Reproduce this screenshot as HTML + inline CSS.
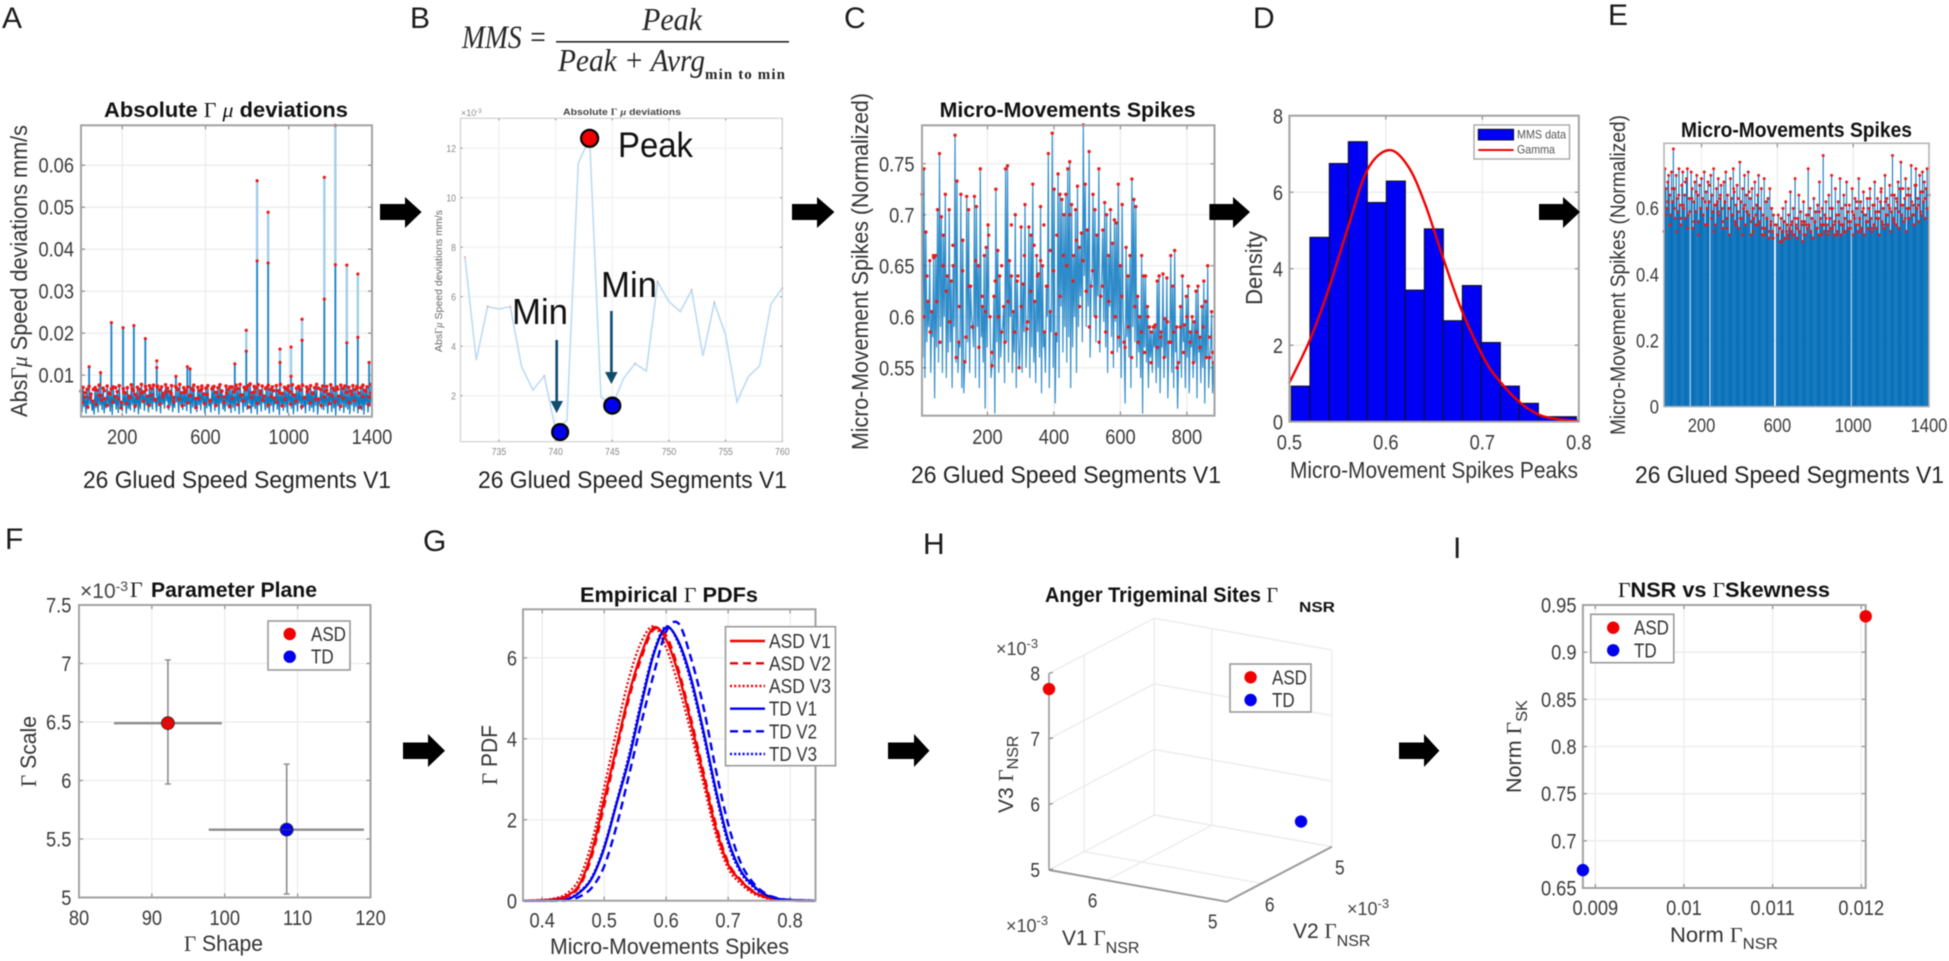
<!DOCTYPE html>
<html lang="en"><head><meta charset="utf-8"><title>Micro-movement spikes analysis figure</title>
<style>
html,body{margin:0;padding:0;background:#fff}
svg{display:block;filter:blur(.5px)}
text{font-family:"Liberation Sans",sans-serif;fill:#262626}
.s{font-family:"Liberation Serif",serif}
.i{font-family:"Liberation Serif",serif;font-style:italic}
.letter{font-size:30px;fill:#1c1c1c}
.title{font-size:21px;font-weight:bold;fill:#111}
.lab{font-size:23px;fill:#333}
.seg{font-size:24px;fill:#222}
.leg{font-size:20px;fill:#333}
.legbox{fill:#fff;stroke:#9a9a9a;stroke-width:1.6}
</style></head>
<body>
<svg id="fig" xmlns="http://www.w3.org/2000/svg" width="1949" height="961" viewBox="0 0 1949 961">
<rect width="1949" height="961" fill="#fff"/>
<text class="letter" x="2" y="28">A</text>
<text class="letter" x="410" y="28">B</text>
<text class="letter" x="844" y="28">C</text>
<text class="letter" x="1253" y="28">D</text>
<text class="letter" x="1608" y="25">E</text>
<text class="letter" x="5" y="549">F</text>
<text class="letter" x="423" y="551">G</text>
<text class="letter" x="923" y="554">H</text>
<text class="letter" x="1453" y="558">I</text>

<g>
<text class="i" x="462" y="48" font-size="33" textLength="85" lengthAdjust="spacingAndGlyphs">MMS =</text>
<text class="i" x="642" y="30" font-size="32" textLength="60" lengthAdjust="spacingAndGlyphs">Peak</text>
<rect x="556" y="41" width="233" height="1.6" fill="#222"/>
<text class="i" x="558" y="71" font-size="32" textLength="147" lengthAdjust="spacingAndGlyphs">Peak + Avrg</text>
<text class="s" x="705" y="79" font-size="15" font-weight="bold" textLength="80" lengthAdjust="spacing">min to min</text>
</g>

<g id="g-a"></g>
<g id="g-b"></g>
<g id="g-c"></g>
<g id="g-d"></g>
<g id="g-e"></g>
<g id="g-f"></g>
<g id="g-g"></g>
<g id="g-h"></g>
<g id="g-i"></g>

<text class="title" x="104" y="117" textLength="244" lengthAdjust="spacingAndGlyphs">Absolute <tspan class="s" font-weight="normal">Γ</tspan> <tspan class="i" font-weight="normal">μ</tspan> deviations</text>
<text class="lab" transform="translate(27,417) rotate(-90)" x="0" y="0" textLength="292" lengthAdjust="spacingAndGlyphs">Abs<tspan class="s">Γ</tspan><tspan class="i">μ</tspan> Speed deviations mm/s</text>
<text class="seg" x="83" y="488" textLength="308" lengthAdjust="spacingAndGlyphs">26 Glued Speed Segments V1</text>

<text x="563" y="115" font-size="9.5" font-weight="bold" fill="#444" style="fill:#444" textLength="118" lengthAdjust="spacingAndGlyphs">Absolute <tspan class="s">Γ</tspan> <tspan class="i">μ</tspan> deviations</text>
<text x="461" y="116" font-size="9" style="fill:#888">×10<tspan dy="-3" font-size="6">-3</tspan></text>
<text transform="translate(442,352) rotate(-90)" x="0" y="0" font-size="10" style="fill:#666" textLength="142" lengthAdjust="spacingAndGlyphs">Abs<tspan class="s">Γ</tspan><tspan class="i">μ</tspan> Speed deviations mm/s</text>
<text class="seg" x="478" y="488" textLength="309" lengthAdjust="spacingAndGlyphs">26 Glued Speed Segments V1</text>
<text x="618" y="157" font-size="35" style="fill:#111" textLength="75" lengthAdjust="spacingAndGlyphs">Peak</text>
<text x="512" y="324" font-size="36" style="fill:#111" textLength="56" lengthAdjust="spacingAndGlyphs">Min</text>
<text x="601" y="297" font-size="36" style="fill:#111" textLength="56" lengthAdjust="spacingAndGlyphs">Min</text>
<g fill="#0f4c6e"><rect x="555.4" y="340" width="2.6" height="64"/><polygon points="550.5,401 563,401 556.7,413"/></g>
<g fill="#0f4c6e"><rect x="610.1" y="311" width="2.6" height="64"/><polygon points="605,372 617.6,372 611.4,384"/></g>

<text class="title" x="939.6" y="117" textLength="256" lengthAdjust="spacingAndGlyphs">Micro-Movements Spikes</text>
<text class="lab" transform="translate(868,450) rotate(-90)" x="0" y="0" textLength="357" lengthAdjust="spacingAndGlyphs">Micro-Movement Spikes (Normalized)</text>
<text class="seg" x="911" y="483" textLength="310" lengthAdjust="spacingAndGlyphs">26 Glued Speed Segments V1</text>

<text class="lab" transform="translate(1262,305) rotate(-90)" x="0" y="0" textLength="74" lengthAdjust="spacingAndGlyphs">Density</text>
<text class="lab" x="1290" y="478" textLength="288" lengthAdjust="spacingAndGlyphs">Micro-Movement Spikes Peaks</text>

<text class="title" x="1681" y="137" textLength="231" lengthAdjust="spacingAndGlyphs">Micro-Movements Spikes</text>
<text class="lab" transform="translate(1625,435) rotate(-90)" x="0" y="0" style="font-size:21px" textLength="320" lengthAdjust="spacingAndGlyphs">Micro-Movement Spikes (Normalized)</text>
<text class="seg" x="1635" y="483" textLength="309" lengthAdjust="spacingAndGlyphs">26 Glued Speed Segments V1</text>

<g>
<text x="80" y="598" font-size="21" style="fill:#444">×10<tspan dy="-7" font-size="14">-3</tspan></text>
<text class="s" x="130" y="597" font-size="22" style="fill:#222">Γ</text>
<text class="title" x="151" y="597" textLength="166" lengthAdjust="spacingAndGlyphs">Parameter Plane</text>
</g>
<text class="lab" x="184" y="951" style="font-size:22px" textLength="79" lengthAdjust="spacingAndGlyphs"><tspan class="s">Γ</tspan> Shape</text>
<text class="lab" transform="translate(36,787) rotate(-90)" x="0" y="0" style="font-size:22px" textLength="71" lengthAdjust="spacingAndGlyphs"><tspan class="s">Γ</tspan> Scale</text>

<text class="title" x="580" y="602" textLength="178" lengthAdjust="spacingAndGlyphs">Empirical <tspan class="s" font-weight="normal">Γ</tspan> PDFs</text>
<text class="lab" x="550" y="954" style="font-size:22px" textLength="239" lengthAdjust="spacingAndGlyphs">Micro-Movements Spikes</text>
<text class="lab" transform="translate(497,785) rotate(-90)" x="0" y="0" style="font-size:22px" textLength="60" lengthAdjust="spacingAndGlyphs"><tspan class="s">Γ</tspan> PDF</text>

<text class="title" x="1045" y="602" textLength="233" lengthAdjust="spacingAndGlyphs">Anger Trigeminal Sites <tspan class="s" font-weight="normal">Γ</tspan></text>
<text class="title" x="1299" y="612" style="font-size:15px" textLength="36" lengthAdjust="spacingAndGlyphs">NSR</text>
<text class="lab" transform="translate(1013,813) rotate(-90)" x="0" y="0" style="font-size:21px">V3 <tspan class="s">Γ</tspan><tspan dy="5" font-size="16">NSR</tspan></text>
<text class="lab" x="1062" y="945" style="font-size:21px">V1 <tspan class="s">Γ</tspan><tspan dy="8" font-size="16">NSR</tspan></text>
<text class="lab" x="1293" y="938" style="font-size:21px">V2 <tspan class="s">Γ</tspan><tspan dy="8" font-size="16">NSR</tspan></text>
<text x="996" y="655" font-size="18" style="fill:#444">×10<tspan dy="-7" font-size="13">-3</tspan></text>
<text x="1347" y="915" font-size="18" style="fill:#444">×10<tspan dy="-7" font-size="13">-3</tspan></text>
<text x="1006" y="932" font-size="18" style="fill:#444">×10<tspan dy="-7" font-size="13">-3</tspan></text>

<text class="title" x="1618" y="597" textLength="212" lengthAdjust="spacingAndGlyphs"><tspan class="s" font-weight="normal">Γ</tspan>NSR vs <tspan class="s" font-weight="normal">Γ</tspan>Skewness</text>
<text class="lab" x="1670" y="942" style="font-size:21px" textLength="108" lengthAdjust="spacingAndGlyphs">Norm <tspan class="s">Γ</tspan><tspan dy="7" font-size="16">NSR</tspan></text>
<text class="lab" transform="translate(1521,793) rotate(-90)" x="0" y="0" style="font-size:21px" textLength="93" lengthAdjust="spacingAndGlyphs">Norm <tspan class="s">Γ</tspan><tspan dy="6" font-size="16">SK</tspan></text>

<g fill="#000">
<polygon points="380,204 405,204 405,197 421.6,212 405,228 405,220 380,220"/>
<polygon points="792,204 817,204 817,197 834.4,212 817,228 817,220 792,220"/>
<polygon points="1209.4,204 1233,204 1233,197 1250,212 1233,228 1233,220 1209.4,220"/>
<polygon points="1539,204 1563,204 1563,197 1580,212 1563,228 1563,220 1539,220"/>
<polygon points="403,742.5 428,742.5 428,734 445,750.7 428,767 428,759 403,759"/>
<polygon points="888,742.5 914,742.5 914,734 929.5,750.7 914,767 914,759 888,759"/>
<polygon points="1399,742.5 1424,742.5 1424,734 1439.4,750.7 1424,767 1424,759 1399,759"/>
</g>
</svg>
<script>
/* ---------- chart data ---------- */
const aXTicks = [200, 600, 1000, 1400];
const aYTicks = [0.01, 0.02, 0.03, 0.04, 0.05, 0.06];
const aSpikeX = [41, 96, 148, 204, 256, 311, 366, 458, 513, 526, 741, 796, 848, 901, 958, 1011, 1064, 1171, 1224, 1279, 1332, 1386];
const aSpikeTop = [0.012, 0.0106, 0.0225, 0.0213, 0.0218, 0.0187, 0.0134, 0.0097, 0.012, 0.0115, 0.0127, 0.0207, 0.0563, 0.0488, 0.0162, 0.0167, 0.0233, 0.0571, 0.0695, 0.0362, 0.0341, 0.013];
const aSpikeMid = [0, 0, 0, 0, 0, 0, 0.0118, 0, 0, 0, 0, 0.0157, 0.0372, 0.0367, 0.013, 0.0097, 0.0183, 0.0281, 0.0363, 0.0177, 0.019, 0];
const aPeaks = [62,71,48,66,73,55,38,70,64,76,52,69,44,74,58,67,72,49,61,75,35,68,57,70,46,77,63,54,71,66,78,60,73,50,75,68,76,42,74,65,72,56,77,69,61,75,47,73,66,78,58,70,64,72,52,68,76,44,71,63,74,55,69,75,38,67,73,59,70,77,62,48,74,66,72,72,60,76,68,78,53,71,65,75,79,58,73,69,77,62,74,50,70,76,66,72,45,75,63,78,56,71,68,74,60,77,52,69,73,65,76,47,72,67,75,58,70,78,43,66,74,61,73,55,77,69,64,72,50,76,68,74,59,71,62,75,66,73,57,70,76,64,72,48,78];
const aTroughs = [12,24,8,19,30,15,6,22,11,28,17,9,21,26,13,5,31,18,10,23,14,27,8,20,16,29,12,25,7,19,33,15,28,11,24,18,34,13,26,9,30,20,37,16,27,12,22,35,10,29,17,25,14,31,8,23,19,12,28,16,33,9,21,26,11,30,15,24,6,32,18,13,27,20,10,22,14,29,7,35,11,25,17,31,9,24,19,6,28,13,33,16,21,8,27,12,30,18,5,26,15,23,10,34,20,7,28,13,32,17,24,9,29,14,22,11,27,6,31,19,16,25,8,33,12,21,4,26,15,30,10,23,18,7,28,13,24,9,20,16,6,29,11,25,14,31,8,22,17,26];
const aExtraDots = [35,58,24,47,66,30,52,41,63,28,55,36,70,44,22,60,33,50,68,26,46,57,38,65,29,53,42,72,31,48,61,25,56,37,69,43,27,59,34,51,64,23,45,67,32,54,40,71,28,49,62,35,57,26,44,66,30,52,39,70,24,47,60,33,55,41,68,29,50,63,36,58,27,43,65,31,53,38,72,25,46,61,34,56,42,69,28,48,64,32,51,37,67,26,45,59,35,54,40,70,23,49,62,30,57];

const bXTicks = [735, 740, 745, 750, 755, 760];
const bYTicks = [2, 4, 6, 8, 10, 12];
const bX = [732,733,734,735,736,737,738,739,740,741,742,743,744,745,746,747,748,749,750,751,752,753,754,755,756,757,758,759,760];
const bY = [7.6,3.44,5.6,5.5,5.6,3.17,2.23,2.8,0.6,1.0,11.4,12.4,1.95,1.6,2.7,3.3,3.0,6.6,5.8,5.4,6.27,3.6,5.76,4.45,1.75,2.77,3.2,5.7,6.35];
const bPeakX = [743];
const bPeakY = [12.4];
const bMinX = [740.4, 745];
const bMinY = [0.53, 1.6];

const cXTicks = [200, 400, 600, 800];
const cYTicks = [0.55, 0.6, 0.65, 0.7, 0.75];
const cPeaks = [720,745,683,615,655,605,658,660,705,760,698,680,720,640,705,635,650,778,733,575,720,675,556,718,705,630,590,718,708,650,745,610,660,668,690,600,552,620,725,665,640,585,610,745,748,655,640,605,700,635,550,688,632,710,588,688,680,730,615,660,642,708,650,585,630,760,605,780,725,583,740,720,715,700,720,745,752,710,660,705,728,668,682,788,730,685,762,630,720,705,680,745,620,685,712,700,660,705,672,695,692,730,650,710,575,668,640,660,735,715,708,620,600,660,640,640,610,590,585,590,592,635,640,585,642,598,638,575,660,630,665,590,555,610,640,592,620,630,585,600,595,625,630,580,610,635,615,650,560,605,555];
const cTroughs = [560,540,575,590,545,580,520,570,555,590,545,600,540,565,575,530,590,555,545,570,530,525,555,575,545,600,570,540,590,530,580,555,510,570,600,540,560,505,575,545,560,590,535,575,555,600,545,565,530,590,570,545,585,550,600,540,570,555,535,585,560,525,570,545,600,530,585,550,515,575,540,610,565,590,555,580,530,570,600,545,590,620,575,640,590,610,560,640,600,575,620,565,640,595,570,545,610,580,550,595,565,570,540,600,515,580,560,530,590,575,550,565,540,505,570,555,530,560,545,570,535,550,525,570,540,560,520,575,545,530,565,510,555,540,575,530,560,525,570,540,555,520,565,535,550,515,560,530,570,525,550];
const cExtraDots = [600,640,585,660,615,575,650,625,595,670,560,610,645,580,630,590,655,570,620,605,680,565,635,600,650,575,615,690,585,640,610,660,595,625,670,640,655,690,630,665,645,680,620,660,650,700,635,675,610,655,625,590,645,600,575,630,585,615,565,600,580,620,570,590,560,610,575,585,565,600,555,590,570,580,560,595,575,585,550,590,565,600,575,555,585,570,590,560,580,565];

const dXTicks = [0.5, 0.6, 0.7, 0.8];
const dYTicks = [0, 2, 4, 6, 8];
const dBinEdges = [0.502,0.5213,0.5414,0.5611,0.5808,0.6005,0.6202,0.6399,0.6596,0.6793,0.699,0.7187,0.7384,0.7581,0.7778,0.7975];
const dDensity = [0.93,4.82,6.75,7.32,5.73,6.29,3.44,5.04,2.64,3.56,2.07,0.93,0.48,0.13,0.13];
const dFitX = [0.4996,0.5213,0.5403,0.561,0.5807,0.6032,0.6232,0.6405,0.6595,0.6785,0.7027,0.72,0.74,0.76,0.78,0.8];
const dFitY = [1.0,2.14,3.44,5.1,6.58,7.1,6.67,5.7,4.27,2.92,1.61,1.0,0.48,0.17,0.06,0.02];

const eXTicks = [200, 600, 1000, 1400];
const eYTicks = [0, 0.2, 0.4, 0.6];
const eValues = [53,72,66,60,68,70,64,58,71,62,78,66,57,70,63,59,72,61,55,67,71,60,64,57,69,72,58,63,0,71,66,54,62,68,59,70,64,56,67,60,69,63,58,71,55,65,60,68,62,0,70,64,59,72,61,55,66,62,69,58,63,67,60,54,68,62,71,57,64,60,52,69,63,58,72,65,56,61,67,59,54,74,62,57,66,60,70,55,64,59,71,58,63,52,66,60,57,68,55,61,64,70,56,60,66,52,58,69,54,62,57,63,51,66,55,60,53,58,0,0,55,52,58,54,50,57,53,60,56,51,62,55,52,58,54,65,53,56,60,52,69,55,51,57,64,53,59,55,50,62,56,52,58,54,72,55,60,53,57,51,63,56,59,54,61,52,68,57,55,60,76,53,58,62,55,52,64,57,54,70,60,55,52,66,58,53,62,56,69,52,60,55,64,57,53,68,59,54,61,56,0,66,52,58,63,55,60,53,69,57,62,54,59,65,52,58,56,63,54,60,66,57,53,61,55,68,59,54,63,57,52,62,66,56,60,54,70,58,63,55,61,67,53,59,76,57,64,60,55,62,68,54,66,74,58,61,56,63,69,53,60,66,57,64,73,58,61,55,67,72,60,63,56,70,65,58,71,62,68,57,66,72,60,64];
const eExtraDots = [58,62,55,66,60,53,64,57,61,68,54,59,63,56,65,52,60,58,62,55,67,57,53,61,59,64,56,62,54,60,58,66,55,63,57,52,61,59,65,56,53,58,55,60,54,52,57,53,56,51,55,52,54,50,56,53,51,55,52,57,54,53,56,52,55,58,53,51,56,54,59,52,55,57,53,60,54,56,52,58,55,53,61,56,54,59,57,62,55,53,60,58,56,63,54,61,57,59,65,55,62,58,60,64,56,63,59,61,66,57,64,60,62,58,67,61,59,65,63,60];

const fXTicks = [80, 90, 100, 110, 120];
const fYTicks = [5, 5.5, 6, 6.5, 7, 7.5];
const fGroups = ['ASD', 'TD'];
const fShape = [92.2, 108.5];
const fShapeLow = [84.8, 97.8];
const fShapeHigh = [99.6, 119.1];
const fScale = [6.49, 5.58];
const fScaleLow = [5.97, 5.03];
const fScaleHigh = [7.03, 6.14];

const gXTicks = [0.4, 0.5, 0.6, 0.7, 0.8];
const gYTicks = [0, 2, 4, 6];
const gX = [0.37,0.40,0.42,0.44,0.46,0.48,0.50,0.52,0.54,0.56,0.58,0.60,0.62,0.64,0.66,0.68,0.70,0.72,0.74,0.76,0.78,0.80,0.82,0.84];
const gAsdV1 = [0,0.01,0.04,0.12,0.4,1.2,2.5,3.8,5.1,6.1,6.75,6.45,5.6,4.4,3.1,1.8,0.9,0.5,0.22,0.09,0.03,0.01,0,0];
const gAsdV2 = [0,0.01,0.03,0.1,0.35,1.1,2.35,3.7,5.0,6.0,6.7,6.55,5.7,4.5,3.2,1.9,0.95,0.52,0.24,0.1,0.04,0.01,0,0];
const gAsdV3 = [0,0.02,0.06,0.18,0.55,1.45,2.8,4.2,5.5,6.4,6.78,6.25,5.3,4.15,2.9,1.65,0.8,0.42,0.18,0.07,0.02,0.01,0,0];
const gTdV1 = [0,0,0.01,0.03,0.2,0.55,1.3,2.4,3.5,4.85,6.1,6.75,6.4,5.5,4.2,2.75,1.5,0.75,0.38,0.15,0.05,0.02,0.01,0];
const gTdV2 = [0,0,0,0.01,0.1,0.32,0.85,1.85,3.1,4.4,5.6,6.65,6.85,6.0,4.8,3.25,1.9,0.95,0.45,0.18,0.06,0.02,0.01,0];
const gTdV3 = [0,0,0.01,0.04,0.22,0.58,1.35,2.45,3.6,4.95,6.15,6.78,6.35,5.4,4.1,2.65,1.4,0.7,0.34,0.13,0.04,0.02,0,0];

const hV1Ticks = [5, 6];
const hV2Ticks = [5, 6];
const hZTicks = [5, 6, 7, 8];
const hV1 = [6.48, 5];
const hV2 = [6.5, 5.44];
const hV3 = [7.76, 5.63];

const iXTicks = [0.009, 0.01, 0.011, 0.012];
const iYTicks = [0.65, 0.7, 0.75, 0.8, 0.85, 0.9, 0.95];
const iNsr = [0.01205, 0.00886];
const iSk = [0.938, 0.669];

/* ---------- helpers ---------- */
const NS = 'http://www.w3.org/2000/svg';
function add(parent, tag, attrs, name, txt) {
  const el = document.createElementNS(NS, tag);
  for (const k in attrs) el.setAttribute(k, attrs[k]);
  
  
  if (txt !== undefined) el.textContent = txt;
  parent.appendChild(el);
  return el;
}
function narrow(t, f) {
  t.setAttribute('textLength', (t.getComputedTextLength() * f).toFixed(2));
  t.setAttribute('lengthAdjust', 'spacingAndGlyphs');
}
function scale(d0, d1, r0, r1) { return v => r0 + (v - d0) * (r1 - r0) / (d1 - d0); }
function polyPath(xs, ys) { return xs.map((x, i) => (i ? 'L' : 'M') + x.toFixed(2) + ' ' + ys[i].toFixed(2)).join(''); }
function smoothPath(xs, ys) {
  let d = 'M' + xs[0].toFixed(2) + ' ' + ys[0].toFixed(2);
  for (let i = 0; i < xs.length - 1; i++) {
    const p0 = Math.max(i - 1, 0), p2 = i + 1, p3 = Math.min(i + 2, xs.length - 1);
    const c1x = xs[i] + (xs[p2] - xs[p0]) / 6, c1y = ys[i] + (ys[p2] - ys[p0]) / 6;
    const c2x = xs[p2] - (xs[p3] - xs[i]) / 6, c2y = ys[p2] - (ys[p3] - ys[i]) / 6;
    d += 'C' + c1x.toFixed(2) + ' ' + c1y.toFixed(2) + ' ' + c2x.toFixed(2) + ' ' + c2y.toFixed(2) + ' ' + xs[p2].toFixed(2) + ' ' + ys[p2].toFixed(2);
  }
  return d;
}
function drawAxes(g, p, box, sx, sy, xTicks, yTicks, o) {
  const L = box[0], R = box[1], T = box[2], B = box[3];
  const tl = o.tick === undefined ? 4 : o.tick;
  const gridC = o.grid || '#ececec';
  const lab = o.labelColor || '#3a3a3a';
  const fs = o.fontSize || 21;
  xTicks.forEach(v => {
    const x = sx(v);
    add(g, 'line', {x1: x, x2: x, y1: T, y2: B, stroke: gridC, 'stroke-width': 1.3}, p + '-x-gridline');
    add(g, 'line', {x1: x, x2: x, y1: B, y2: B - tl, stroke: '#8a8a8a', 'stroke-width': 1.2}, p + '-x-tick');
    add(g, 'line', {x1: x, x2: x, y1: T, y2: T + tl, stroke: '#8a8a8a', 'stroke-width': 1.2}, p + '-x-tick-top');
    const t = add(g, 'text', {x: x, y: o.xBase, 'text-anchor': 'middle', 'font-size': fs}, p + '-x-tick-label', String(v));
    t.style.fill = lab;
    narrow(t, 0.87);
  });
  yTicks.forEach(v => {
    const y = sy(v);
    add(g, 'line', {x1: L, x2: R, y1: y, y2: y, stroke: gridC, 'stroke-width': 1.3}, p + '-y-gridline');
    add(g, 'line', {x1: L, x2: L + tl, y1: y, y2: y, stroke: '#8a8a8a', 'stroke-width': 1.2}, p + '-y-tick');
    add(g, 'line', {x1: R, x2: R - tl, y1: y, y2: y, stroke: '#8a8a8a', 'stroke-width': 1.2}, p + '-y-tick-right');
    const t = add(g, 'text', {x: o.yEnd, y: y + fs * 0.36, 'text-anchor': 'end', 'font-size': fs}, p + '-y-tick-label', String(v));
    t.style.fill = lab;
    narrow(t, 0.87);
  });
}
function drawBox(g, p, box, stroke, w) {
  add(g, 'rect', {x: box[0], y: box[2], width: box[1] - box[0], height: box[3] - box[2], fill: 'none', stroke: stroke || '#a2a2a2', 'stroke-width': w || 2}, p + '-axes-box');
}
function dots(g, name, xs, ys, r, fill) {
  xs.forEach((x, i) => add(g, 'circle', {cx: x, cy: ys[i], r: r, fill: fill}, name));
}
function legendEntry(g, p, mx, my, tx, label, color) {
  add(g, 'ellipse', {cx: mx, cy: my, rx: 6.2, ry: 6.2, fill: color}, p + '-legend-marker-' + label.toLowerCase());
  const t = add(g, 'text', {x: tx, y: my + 7, class: 'leg'}, p + '-legend-label-' + label.toLowerCase(), label);
  narrow(t, 0.85);
  return t;
}
const $ = id => document.getElementById(id);
const BLUE = '#0072BD';
const RED = '#f01818';

/* ---------- panel A ---------- */
(function () {
  const g = $('g-a'), box = [81, 372, 125.3, 416.7];
  const sx = scale(2, 1400, 81, 372), sy = scale(0.0001, 0.0695, 416.7, 125.3);
  drawAxes(g, 'panel-a', box, sx, sy, aXTicks, aYTicks, {xBase: 444, yEnd: 74});
  const n = Math.min(aPeaks.length, aTroughs.length), xs = [], ys = [], px = [], py = [];
  for (let i = 0; i < n; i++) {
    const x0 = 2 + (2 * i) * 1398 / (2 * n - 1), x1 = 2 + (2 * i + 1) * 1398 / (2 * n - 1);
    xs.push(sx(x0), sx(x1));
    ys.push(sy(aPeaks[i] / 10000), sy(aTroughs[i] / 10000));
    px.push(sx(x0)); py.push(sy(aPeaks[i] / 10000));
  }
  aExtraDots.forEach((v, i) => {
    px.push(sx(8 + i * 1388 / (aExtraDots.length - 1)));
    py.push(sy(v / 10000));
  });
  add(g, 'path', {d: polyPath(xs, ys), fill: 'none', stroke: BLUE, 'stroke-width': 1.25, opacity: 0.95}, 'panel-a-speed-deviation-line');
  aSpikeX.forEach((v, i) => {
    add(g, 'line', {x1: sx(v), x2: sx(v), y1: sy(aSpikeTop[i]), y2: sy(0.005), stroke: '#a0cdec', 'stroke-width': 2.4}, 'panel-a-spike');
    const m = aSpikeMid[i];
    add(g, 'line', {x1: sx(v), x2: sx(v), y1: sy(m || aSpikeTop[i]), y2: sy(0.005), stroke: BLUE, 'stroke-width': 1.4, opacity: 0.9}, 'panel-a-spike-core');
    add(g, 'circle', {cx: sx(v), cy: sy(aSpikeTop[i]), r: 1.6, fill: RED}, 'panel-a-spike-peak');
    if (m) add(g, 'circle', {cx: sx(v), cy: sy(m), r: 1.6, fill: RED}, 'panel-a-spike-secondary-peak');
  });
  dots(g, 'panel-a-peak-dot', px, py, 1.8, RED);
  drawBox(g, 'panel-a', box);
})();

/* ---------- panel B ---------- */
(function () {
  const g = $('g-b'), box = [460.4, 782.3, 118.3, 441.7];
  const sx = scale(731.6, 760, 460.4, 782.3), sy = scale(0, 13.1, 445.2, 121);
  drawAxes(g, 'panel-b', box, sx, sy, bXTicks, bYTicks, {xBase: 455, yEnd: 456, fontSize: 10, tick: 2, grid: '#f1f1f1', labelColor: '#888'});
  drawBox(g, 'panel-b', box, '#d0d0d0', 1.2);
  add(g, 'path', {d: polyPath(bX.map(sx), bY.map(sy)), fill: 'none', stroke: '#bcdcf2', 'stroke-width': 1.6}, 'panel-b-zoomed-line');
  bY.forEach((v, i) => {
    const left = i === 0 ? -1 : bY[i - 1], right = i === bY.length - 1 ? -1 : bY[i + 1];
    if (v > left && v > right) add(g, 'circle', {cx: sx(bX[i]), cy: sy(v), r: 1, fill: '#f3a6a6'}, 'panel-b-local-peak');
  });
  bPeakX.forEach((v, i) => add(g, 'circle', {cx: sx(v), cy: sy(bPeakY[i]), r: 8.5, fill: '#f00000', stroke: '#000', 'stroke-width': 2.2}, 'panel-b-peak-marker'));
  bMinX.forEach((v, i) => add(g, 'circle', {cx: sx(v), cy: sy(bMinY[i]), r: 8, fill: '#0000ee', stroke: '#000', 'stroke-width': 2.2}, 'panel-b-min-marker'));
})();

/* ---------- panel C ---------- */
(function () {
  const g = $('g-c'), box = [922, 1214.5, 125.3, 415.7];
  const sx = scale(3, 883, 922, 1214.5), sy = scale(0.503, 0.7877, 415.7, 125.3);
  drawAxes(g, 'panel-c', box, sx, sy, cXTicks, cYTicks, {xBase: 444, yEnd: 914.5});
  const n = Math.min(cPeaks.length, cTroughs.length), xs = [], ys = [], px = [], py = [];
  for (let i = 0; i < n; i++) {
    const x0 = 3 + (2 * i) * 880 / (2 * n - 1), x1 = 3 + (2 * i + 1) * 880 / (2 * n - 1);
    xs.push(sx(x0), sx(x1));
    ys.push(sy(cPeaks[i] / 1000), sy(cTroughs[i] / 1000));
    px.push(sx(x0)); py.push(sy(cPeaks[i] / 1000));
  }
  cExtraDots.forEach((v, i) => {
    px.push(sx(8 + i * 870 / (cExtraDots.length - 1)));
    py.push(sy(v / 1000));
  });
  add(g, 'path', {d: polyPath(xs, ys), fill: 'none', stroke: BLUE, 'stroke-width': 1.15, opacity: 0.82}, 'panel-c-normalized-spikes-line');
  dots(g, 'panel-c-peak-dot', px, py, 1.7, RED);
  drawBox(g, 'panel-c', box);
})();

/* ---------- panel D ---------- */
(function () {
  const g = $('g-d'), box = [1289.4, 1578.8, 115.7, 421.7];
  const sx = scale(0.5, 0.8, 1289.4, 1578.8), sy = scale(0, 8, 421.7, 115.7);
  drawAxes(g, 'panel-d', box, sx, sy, dXTicks, dYTicks, {xBase: 449.5, yEnd: 1283, fontSize: 21});
  dDensity.forEach((v, i) => {
    add(g, 'rect', {x: sx(dBinEdges[i]), y: sy(v), width: sx(dBinEdges[i + 1]) - sx(dBinEdges[i]), height: sy(0) - sy(v), fill: '#0000f5', stroke: '#10102a', 'stroke-width': 1.1}, 'panel-d-histogram-bar');
  });
  add(g, 'path', {d: smoothPath(dFitX.map(sx), dFitY.map(sy)), fill: 'none', stroke: '#f00000', 'stroke-width': 2.4}, 'panel-d-gamma-fit-curve');
  drawBox(g, 'panel-d', box);
  add(g, 'rect', {x: 1474, y: 125, width: 95.5, height: 34, fill: '#fff', stroke: '#a8a8a8', 'stroke-width': 1.4}, 'panel-d-legend-box');
  add(g, 'rect', {x: 1478.3, y: 129.3, width: 35.3, height: 10.7, fill: '#0000f5', stroke: '#10102a', 'stroke-width': 1}, 'panel-d-legend-swatch-mms');
  add(g, 'line', {x1: 1478.3, x2: 1513.6, y1: 150, y2: 150, stroke: '#f00000', 'stroke-width': 2}, 'panel-d-legend-swatch-gamma');
  const a = add(g, 'text', {x: 1517, y: 138.7, 'font-size': 12, textLength: 49, lengthAdjust: 'spacingAndGlyphs'}, 'panel-d-legend-label-mms', 'MMS data');
  a.style.fill = '#555';
  const b = add(g, 'text', {x: 1517, y: 153.7, 'font-size': 12, textLength: 38, lengthAdjust: 'spacingAndGlyphs'}, 'panel-d-legend-label-gamma', 'Gamma');
  b.style.fill = '#555';
})();

/* ---------- panel E ---------- */
(function () {
  const g = $('g-e'), box = [1664, 1929, 143.3, 406.7];
  const sx = scale(2, 1400, 1664, 1929), sy = scale(0, 0.797, 406.7, 143.3);
  drawAxes(g, 'panel-e', box, sx, sy, eXTicks, eYTicks, {xBase: 432, yEnd: 1659, fontSize: 19});
  const n = eValues.length, px = [], py = [];
  eValues.forEach((v, i) => {
    const x = sx(2 + i * 1398 / (n - 1));
    add(g, 'line', {x1: x, x2: x, y1: sy(0), y2: sy(v / 100), stroke: '#0870ba', 'stroke-width': 1.05}, 'panel-e-spike-stem');
    if (v > 0) { px.push(x); py.push(sy(v / 100)); }
  });
  eExtraDots.forEach((v, i) => {
    px.push(sx(10 + i * 1380 / (eExtraDots.length - 1)));
    py.push(sy(v / 100));
  });
  dots(g, 'panel-e-peak-dot', px, py, 1.5, RED);
  drawBox(g, 'panel-e', box, '#b4b4b4', 1.6);
})();

/* ---------- panel F ---------- */
(function () {
  const g = $('g-f'), box = [79, 370.5, 605, 897.5];
  const sx = scale(80, 120, 79, 370.5), sy = scale(5, 7.5, 897.5, 605);
  drawAxes(g, 'panel-f', box, sx, sy, fXTicks, fYTicks, {xBase: 925, yEnd: 71.4});
  drawBox(g, 'panel-f', box);
  const colors = ['#f00000', '#0000ee'];
  fGroups.forEach((name, i) => {
    const k = name.toLowerCase();
    add(g, 'line', {x1: sx(fShapeLow[i]), x2: sx(fShapeHigh[i]), y1: sy(fScale[i]), y2: sy(fScale[i]), stroke: '#8c8c8c', 'stroke-width': 2.4}, 'panel-f-shape-errorbar-' + k);
    add(g, 'line', {x1: sx(fShape[i]), x2: sx(fShape[i]), y1: sy(fScaleLow[i]), y2: sy(fScaleHigh[i]), stroke: '#8c8c8c', 'stroke-width': 1.6}, 'panel-f-scale-errorbar-' + k);
    add(g, 'line', {x1: sx(fShape[i]) - 3, x2: sx(fShape[i]) + 3, y1: sy(fScaleLow[i]), y2: sy(fScaleLow[i]), stroke: '#8c8c8c', 'stroke-width': 1.4}, 'panel-f-errorbar-cap-low-' + k);
    add(g, 'line', {x1: sx(fShape[i]) - 3, x2: sx(fShape[i]) + 3, y1: sy(fScaleHigh[i]), y2: sy(fScaleHigh[i]), stroke: '#8c8c8c', 'stroke-width': 1.4}, 'panel-f-errorbar-cap-high-' + k);
    add(g, 'circle', {cx: sx(fShape[i]), cy: sy(fScale[i]), r: 6.5, fill: colors[i], stroke: '#333', 'stroke-width': 0.8}, 'panel-f-point-' + k);
    add(g, 'line', {x1: sx(fShape[i]) - 5, x2: sx(fShape[i]) + 5, y1: sy(fScale[i]), y2: sy(fScale[i]), stroke: '#555', 'stroke-width': 1, opacity: 0.7}, 'panel-f-point-crosshair-' + k);
  });
  add(g, 'rect', {x: 268, y: 621, width: 82, height: 49, class: 'legbox'}, 'panel-f-legend-box');
  legendEntry(g, 'panel-f', 289.7, 634, 311, 'ASD', '#f00000');
  legendEntry(g, 'panel-f', 289.7, 656.7, 311, 'TD', '#0000ee');
})();

/* ---------- panel G ---------- */
(function () {
  const g = $('g-g'), box = [523, 815.5, 609.3, 900.7];
  const sx = scale(0.369, 0.841, 523, 815.5), sy = scale(0, 7.2, 900.7, 609.3);
  drawAxes(g, 'panel-g', box, sx, sy, gXTicks, gYTicks, {xBase: 927.7, yEnd: 517});
  const R = '#f00000', Bl = '#0000ee';
  const series = [
    ['asd-v3', gAsdV3, R, '2 2.2', 2.2], ['td-v3', gTdV3, Bl, '2 2.2', 2.2],
    ['asd-v2', gAsdV2, R, '8 5', 2.4], ['td-v2', gTdV2, Bl, '8 5', 2.4],
    ['asd-v1', gAsdV1, R, '', 2.4], ['td-v1', gTdV1, Bl, '', 2.4]
  ];
  const xs = gX.map(sx);
  series.forEach(s => {
    add(g, 'path', {d: smoothPath(xs, s[1].map(sy)), fill: 'none', stroke: s[2], 'stroke-width': s[4], 'stroke-dasharray': s[3]}, 'panel-g-curve-' + s[0]);
  });
  drawBox(g, 'panel-g', box);
  add(g, 'rect', {x: 725.5, y: 626.7, width: 110, height: 139, class: 'legbox'}, 'panel-g-legend-box');
  const labels = ['ASD V1', 'ASD V2', 'ASD V3', 'TD V1', 'TD V2', 'TD V3'];
  const ly = [641, 663.3, 686, 708.7, 731.3, 754];
  const lc = [R, R, R, Bl, Bl, Bl], ld = ['', '8 5', '2 2.2', '', '8 5', '2 2.2'];
  labels.forEach((t, i) => {
    const k = t.toLowerCase().replace(' ', '-');
    add(g, 'line', {x1: 730, x2: 765, y1: ly[i], y2: ly[i], stroke: lc[i], 'stroke-width': 2.4, 'stroke-dasharray': ld[i]}, 'panel-g-legend-line-' + k);
    add(g, 'text', {x: 769, y: ly[i] + 7, class: 'leg', textLength: t.length > 5 ? 62 : 48, lengthAdjust: 'spacingAndGlyphs'}, 'panel-g-legend-label-' + k, t);
  });
})();

/* ---------- panel H ---------- */
(function () {
  const g = $('g-h');
  const A = [1049, 870], B = [1226.7, 901.7], C = [1331.9, 846.7];
  const V1MAX = 6.48, V2MAX = 6.5;
  function proj(v1, v2, z) {
    const a = (v1 - 5) / (V1MAX - 5), b = (V2MAX - v2) / (V2MAX - 5);
    return [B[0] + (A[0] - B[0]) * a + (C[0] - B[0]) * b, B[1] + (A[1] - B[1]) * a + (C[1] - B[1]) * b - (z - 5) * 65.57];
  }
  function seg(p, q, name, col, w) {
    add(g, 'line', {x1: p[0], y1: p[1], x2: q[0], y2: q[1], stroke: col, 'stroke-width': w}, name);
  }
  const GC = '#ebebeb', ZT = 8;
  hZTicks.forEach(z => {
    seg(proj(V1MAX, V2MAX, z), proj(V1MAX, 5, z), 'panel-h-left-wall-gridline', GC, 1.3);
    seg(proj(V1MAX, 5, z), proj(5, 5, z), 'panel-h-back-wall-gridline', GC, 1.3);
  });
  hV2Ticks.forEach(v => {
    seg(proj(V1MAX, v, 5), proj(V1MAX, v, ZT), 'panel-h-left-wall-vertical-gridline', GC, 1.3);
    seg(proj(V1MAX, v, 5), proj(5, v, 5), 'panel-h-floor-gridline-v2', GC, 1.3);
  });
  hV1Ticks.forEach(v => {
    seg(proj(v, 5, 5), proj(v, 5, ZT), 'panel-h-back-wall-vertical-gridline', GC, 1.3);
    seg(proj(v, 5, 5), proj(v, V2MAX, 5), 'panel-h-floor-gridline-v1', GC, 1.3);
  });
  seg(proj(V1MAX, V2MAX, 5), proj(V1MAX, V2MAX, ZT), 'panel-h-z-axis-line', '#9a9a9a', 1.6);
  seg(proj(V1MAX, V2MAX, 5), proj(5, V2MAX, 5), 'panel-h-x-axis-line', '#9a9a9a', 2);
  seg(proj(5, V2MAX, 5), proj(5, 5, 5), 'panel-h-y-axis-line', '#9a9a9a', 2);
  hZTicks.forEach(z => {
    const p = proj(V1MAX, V2MAX, z);
    seg(p, [p[0] + 4, p[1] - 1], 'panel-h-z-tick', '#8a8a8a', 1.2);
    const t = add(g, 'text', {x: 1040, y: p[1] + 7, 'text-anchor': 'end', 'font-size': 20}, 'panel-h-z-tick-label', String(z));
    t.style.fill = '#3a3a3a';
    narrow(t, 0.87);
  });
  hV1Ticks.forEach(v => {
    const p = proj(v, V2MAX, 5);
    const t = add(g, 'text', {x: p[0] - 14, y: p[1] + 27, 'text-anchor': 'middle', 'font-size': 20}, 'panel-h-x-tick-label', String(v));
    t.style.fill = '#3a3a3a';
    narrow(t, 0.87);
  });
  hV2Ticks.forEach(v => {
    const p = proj(5, v, 5);
    const t = add(g, 'text', {x: p[0] + 8, y: p[1] + 28, 'text-anchor': 'middle', 'font-size': 20}, 'panel-h-y-tick-label', String(v));
    t.style.fill = '#3a3a3a';
    narrow(t, 0.87);
  });
  const colors = ['#f00000', '#0000ee'], names = ['asd', 'td'];
  hV1.forEach((v, i) => {
    const p = proj(v, hV2[i], hV3[i]);
    add(g, 'circle', {cx: p[0], cy: p[1], r: 6.2, fill: colors[i]}, 'panel-h-point-' + names[i]);
  });
  add(g, 'rect', {x: 1230, y: 664, width: 81, height: 48, class: 'legbox'}, 'panel-h-legend-box');
  legendEntry(g, 'panel-h', 1250.6, 677.3, 1272, 'ASD', '#f00000');
  legendEntry(g, 'panel-h', 1250.6, 700, 1272, 'TD', '#0000ee');
})();

/* ---------- panel I ---------- */
(function () {
  const g = $('g-i'), box = [1582.9, 1865.7, 605, 888];
  const sx = scale(0.00886, 0.01205, 1582.9, 1865.7), sy = scale(0.65, 0.95, 888, 605);
  drawAxes(g, 'panel-i', box, sx, sy, iXTicks, iYTicks, {xBase: 915, yEnd: 1576.5});
  drawBox(g, 'panel-i', box);
  const colors = ['#f00000', '#0000ee'], names = ['asd', 'td'];
  iNsr.forEach((v, i) => add(g, 'circle', {cx: sx(v), cy: sy(iSk[i]), r: 6.2, fill: colors[i]}, 'panel-i-point-' + names[i]));
  add(g, 'rect', {x: 1590.8, y: 614.3, width: 83, height: 48.4, class: 'legbox'}, 'panel-i-legend-box');
  legendEntry(g, 'panel-i', 1613.2, 627.7, 1634, 'ASD', '#f00000');
  legendEntry(g, 'panel-i', 1613.2, 650.3, 1634, 'TD', '#0000ee');
})();
</script>
</body></html>
